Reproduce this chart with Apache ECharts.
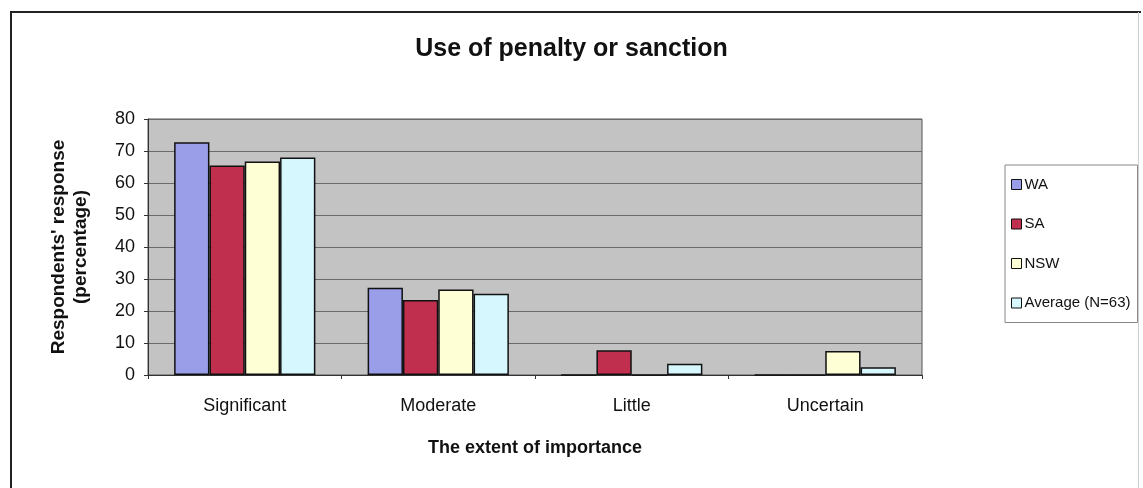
<!DOCTYPE html>
<html>
<head>
<meta charset="utf-8">
<script src="https://cdn.jsdelivr.net/npm/echarts@6/dist/echarts.min.js"></script>
<style>
  html, body { margin: 0; padding: 0; background: #fff; }
  #chart { width: 1143px; height: 488px; }
</style>
</head>
<body>
<div id="chart"></div>
<script>
// Extent of importance categories
const categories = ['Significant', 'Moderate', 'Little', 'Uncertain'];

// Respondents' response (percentage) per state
const waValues = [72.7, 27.3, 0, 0];
const saValues = [65.5, 23.4, 7.7, 0];
const nswValues = [66.7, 26.7, 0, 7.5];
const avgValues = [68.0, 25.4, 3.5, 2.4];

const seriesNames = ['WA', 'SA', 'NSW', 'Average (N=63)'];
const yTicks = { min: 0, max: 80, interval: 10 };

const FONT = '"Liberation Sans", Arial, sans-serif';
const colors = ['#9a9ee8', '#c0304e', '#ffffd6', '#d6f7fd'];
const seriesValues = [waValues, saValues, nswValues, avgValues];

const chart = echarts.init(document.getElementById('chart'), null, { renderer: 'canvas' });

const option = {
  animation: false,
  backgroundColor: '#ffffff',
  textStyle: { fontFamily: FONT, color: '#000' },
  title: {
    text: 'Use of penalty or sanction',
    left: 'center',
    top: 32,
    textStyle: { fontFamily: FONT, fontSize: 25, fontWeight: 'bold', color: '#111' }
  },
  legend: {
    orient: 'vertical',
    left: 1005,
    top: 165,
    data: seriesNames,
    itemWidth: 10,
    itemHeight: 10,
    itemGap: 24.5,
    padding: [12, 7, 12, 6],
    backgroundColor: '#ffffff',
    borderColor: '#888',
    borderWidth: 1,
    icon: 'rect',
    textStyle: { fontFamily: FONT, fontSize: 15, color: '#111', padding: [0, 0, 0, -2] },
    itemStyle: { borderColor: '#111', borderWidth: 1 }
  },
  grid: {
    left: 148,
    right: 221,
    top: 119,
    bottom: 113,
    show: true,
    backgroundColor: '#c3c3c3',
    borderColor: '#555',
    borderWidth: 1
  },
  xAxis: {
    type: 'category',
    data: categories,
    name: 'The extent of importance',
    nameLocation: 'middle',
    nameGap: 64,
    nameTextStyle: { fontFamily: FONT, fontSize: 18, fontWeight: 'bold', color: '#111' },
    axisLine: { lineStyle: { color: '#333', width: 1 } },
    axisTick: { show: true, length: 4, lineStyle: { color: '#333' } },
    axisLabel: { fontFamily: FONT, fontSize: 18, color: '#111', margin: 22 }
  },
  yAxis: {
    type: 'value',
    min: yTicks.min,
    max: yTicks.max,
    interval: yTicks.interval,
    name: "Respondents' response\n(percentage)",
    nameLocation: 'middle',
    nameRotate: 90,
    nameGap: 56,
    nameTextStyle: { fontFamily: FONT, fontSize: 19, fontWeight: 'bold', color: '#111', lineHeight: 22 },
    axisLine: { show: true, lineStyle: { color: '#333', width: 1 } },
    axisTick: { show: true, length: 4, lineStyle: { color: '#333' } },
    axisLabel: { fontFamily: FONT, fontSize: 18, color: '#111', margin: 13 },
    splitLine: { show: true, lineStyle: { color: '#6a6a6a', width: 1 } }
  },
  series: seriesValues.map((vals, i) => ({
    name: seriesNames[i],
    type: 'bar',
    data: vals,
    barGap: '0%',
    barCategoryGap: '27%',
    itemStyle: { color: colors[i], borderColor: '#111', borderWidth: 1.5 }
  })),
  graphic: [
    {
      type: 'polyline',
      shape: { points: [[11, 490], [11, 12], [1141, 12]] },
      style: { stroke: '#222', lineWidth: 2, fill: null },
      silent: true
    },
    {
      type: 'line',
      shape: { x1: 1138.5, y1: 12, x2: 1138.5, y2: 490 },
      style: { stroke: '#cfcfcf', lineWidth: 1 },
      silent: true
    }
  ]
};

chart.setOption(option);
</script>
</body>
</html>
